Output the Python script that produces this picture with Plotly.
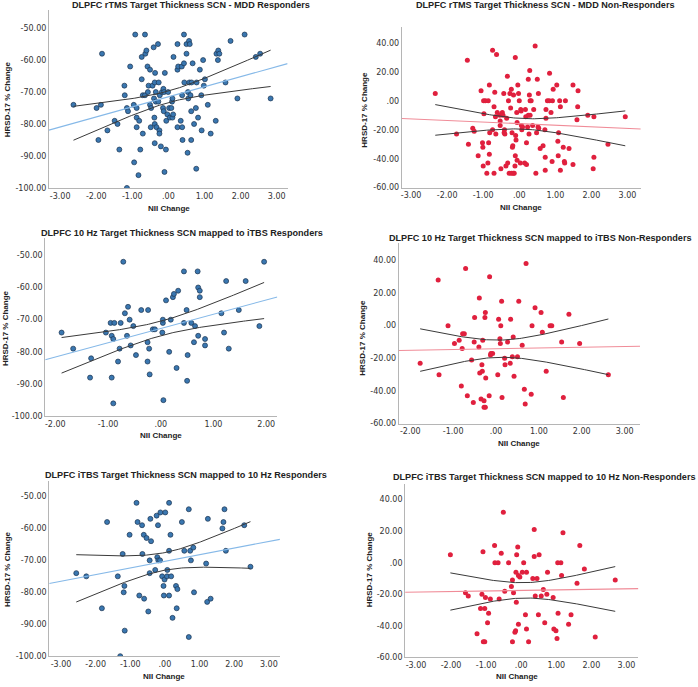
import numpy as np
import plotly.graph_objects as go

# ---------------- data ----------------
# Panel 1: rTMS MDD Responders
p1_x = [-2.63,-1.99,-1.94,-1.87,-1.84,-1.69,-1.49,-1.41,-1.36,-1.22,-1.21,-1.15,-1.15,-1.12,-1.06,-0.96,-0.95,-0.92,-0.88,-0.88,
        -0.88,-0.83,-0.81,-0.78,-0.74,-0.74,-0.71,-0.71,-0.65,-0.65,-0.64,-0.61,-0.58,-0.57,-0.55,-0.51,-0.51,-0.49,-0.48,-0.44,
        -0.41,-0.40,-0.39,-0.38,-0.38,-0.38,-0.37,-0.35,-0.35,-0.33,-0.29,-0.28,-0.27,-0.25,-0.25,-0.24,-0.21,-0.18,-0.15,-0.14,
        -0.13,-0.12,-0.11,-0.10,-0.07,-0.06,-0.03,-0.01,0.02,0.04,0.08,0.10,0.11,0.11,0.13,0.14,0.25,0.25,0.27,0.25,
        0.34,0.37,0.38,0.38,0.39,0.43,0.43,0.44,0.50,0.50,0.53,0.54,0.55,0.57,0.58,0.59,0.61,0.63,0.63,0.64,
        0.67,0.71,0.76,0.77,0.78,0.82,0.87,0.91,0.92,0.96,0.98,1.01,1.09,1.17,1.31,1.33,1.37,1.38,1.41,1.58,
        1.72,1.91,2.11,2.42,2.54,2.83]
p1_y = [-74,-75,-85,-74,-58,-82,-79,-80,-88,-68,-71,-100,-75,-76,-62,-74,-92,-52,-75,-81,
        -78,-96,-79,-88,-66,-59,-71,-83,-52,-71,-58,-57,-62,-70,-68,-63,-74,-81,-75,-68,
        -56,-72,-78,-80,-67,-86,-64,-70,-73,-81,-55,-73,-67,-82,-83,-71,-87,-70,-75,-69,
        -76,-70,-95,-64,-88,-79,-77,-70,-75,-78,-75,-73,-72,-78,-77,-59,-55,-63,-62,-81,
        -79,-62,-81,-71,-85,-52,-61,-67,-58,-55,-89,-70,-72,-54,-67,-55,-71,-76,-85,-67,
        -61,-80,-75,-94,-67,-78,-63,-71,-82,-60,-68,-66,-74,-83,-79,-58,-60,-57,-58,-67,
        -54,-72,-52,-59,-58,-72]

# Panel 2: rTMS MDD Non-Responders
p2_x = [-2.33,-1.74,-1.44,-1.41,-1.29,-1.25,-1.14,-1.06,-1.02,-1.01,-1.00,-0.99,-0.98,-0.94,-0.90,-0.87,-0.86,-0.85,-0.83,-0.83,
        -0.82,-0.74,-0.74,-0.70,-0.70,-0.68,-0.66,-0.65,-0.63,-0.61,-0.54,-0.53,-0.53,-0.51,-0.47,-0.45,-0.43,-0.42,-0.41,-0.40,
        -0.37,-0.35,-0.33,-0.32,-0.30,-0.28,-0.26,-0.24,-0.22,-0.22,-0.20,-0.19,-0.18,-0.17,-0.16,-0.14,-0.12,-0.11,-0.11,-0.10,
        -0.09,-0.07,-0.06,-0.06,-0.04,-0.02,0.00,0.03,0.04,0.05,0.06,0.07,0.09,0.15,0.17,0.18,0.20,0.20,0.23,0.25,
        0.25,0.27,0.28,0.29,0.30,0.30,0.33,0.37,0.40,0.44,0.46,0.48,0.50,0.52,0.53,0.54,0.58,0.66,0.71,0.72,
        0.72,0.74,0.74,0.78,0.83,0.84,0.88,0.91,0.92,0.94,1.04,1.07,1.08,1.09,1.12,1.14,1.14,1.22,1.25,1.26,
        1.28,1.38,1.49,1.49,1.60,1.62,1.63,1.90,2.07,2.07,2.05,2.46,2.94]
p2_y = [5,-23,28,-30,-19,-21,-38,7,-29,-32,-45,0,-9,0,-50,-43,0,-29,11,-37,
        -22,35,-20,-4,-50,6,-11,-23,32,-8,-10,-14,-17,-47,-8,-10,5,-22,-20,-23,
        -45,-12,17,-43,0,-50,5,-5,8,-50,-22,-32,-31,-50,4,-50,-45,30,-38,-24,
        -27,-8,-15,-41,11,5,0,-43,-6,-7,-17,-20,-18,-43,-6,-11,-29,-44,-18,-10,
        15,-23,4,21,-10,0,0,-17,-6,38,-50,-22,15,-18,5,-19,-33,-31,-20,-39,
        -48,-6,-12,0,0,19,-8,-42,0,8,11,-28,-38,-22,0,-4,-48,-32,-42,-43,
        0,-33,11,-44,-13,-4,7,-10,-11,-39,-47,-30,-11]

# Panel 3: 10 Hz -> iTBS Responders
p3_x = [-1.88,-1.66,-1.34,-1.32,-1.04,-0.95,-0.93,-0.93,-0.90,-0.90,-0.88,-0.81,-0.78,-0.76,-0.71,-0.68,-0.64,-0.62,-0.59,-0.57,
        -0.52,-0.47,-0.37,-0.25,-0.25,-0.24,-0.22,-0.21,-0.15,-0.11,0.03,0.04,0.04,0.05,0.10,0.16,0.19,0.23,0.25,0.30,
        0.33,0.44,0.44,0.49,0.50,0.51,0.58,0.63,0.65,0.70,0.71,0.71,0.74,0.74,0.84,0.84,1.15,1.20,1.24,1.29,
        1.48,1.61,1.87,1.96]
p3_y = [-74,-79,-88,-82,-74,-71,-75,-88,-76,-96,-71,-83,-79,-71,-52,-68,-75,-66,-70,-78,
        -72,-81,-67,-83,-77,-67,-79,-87,-73,-73,-74,-71,-70,-95,-64,-80,-70,-63,-62,-85,
        -61,-55,-71,-67,-89,-81,-71,-77,-72,-55,-60,-75,-63,-61,-76,-78,-68,-74,-58,-79,
        -67,-58,-72,-52]

# Panel 4: 10 Hz -> iTBS Non-Responders
p4_x = [-1.77,-1.35,-1.33,-1.12,-0.97,-0.86,-0.81,-0.79,-0.78,-0.74,-0.71,-0.67,-0.57,-0.53,-0.51,-0.50,-0.40,-0.39,-0.38,-0.35,
        -0.33,-0.32,-0.31,-0.28,-0.28,-0.26,-0.25,-0.25,-0.24,-0.16,-0.15,-0.13,-0.12,-0.08,0.04,0.06,0.09,0.10,0.11,0.13,
        0.14,0.20,0.21,0.27,0.33,0.34,0.38,0.40,0.42,0.50,0.53,0.61,0.66,0.68,0.70,0.82,0.84,0.91,1.05,1.08,
        1.17,1.26,1.30,1.53,1.57,1.70,1.95,2.62]
p4_y = [-23,28,-30,0,-11,-9,-37,-14,-5,-5,35,-43,-21,-47,-10,5,-13,17,-29,-45,
        -24,-28,-9,-46,-50,5,8,-50,-32,-43,30,-18,-17,-17,-30,4,-8,-11,0,15,
        -44,-20,-24,-10,-23,4,-19,-7,-31,-19,15,-12,-39,-48,38,-42,0,11,8,-4,
        -28,0,0,-10,-44,7,-11,-30]

# Panel 5: iTBS -> 10 Hz Responders
p5_x = [-2.56,-2.27,-1.82,-1.67,-1.36,-1.29,-1.22,-1.19,-1.17,-1.16,-1.02,-0.82,-0.79,-0.74,-0.66,-0.65,-0.61,-0.60,-0.53,-0.48,
        -0.44,-0.44,-0.42,-0.40,-0.28,-0.24,-0.22,-0.20,-0.19,-0.14,-0.13,-0.08,-0.04,-0.03,-0.01,0.01,0.06,0.07,0.12,0.12,
        0.12,0.16,0.18,0.22,0.32,0.34,0.36,0.49,0.56,0.69,0.69,0.73,0.75,0.82,0.84,1.19,1.22,1.24,1.32,1.66,
        1.69,1.72,1.76,2.29,2.47]
p5_y = [-74,-75,-85,-58,-75,-100,-68,-80,-78,-92,-62,-52,-58,-81,-59,-68,-62,-82,-63,-86,
        -70,-74,-57,-64,-73,-56,-69,-59,-70,-70,-55,-75,-78,-81,-76,-55,-75,-73,-52,-67,
        -81,-62,-75,-88,-78,-85,-79,-58,-67,-54,-94,-67,-70,-66,-80,-71,-83,-57,-82,-60,
        -58,-54,-67,-59,-72]

# Panel 6: iTBS -> 10 Hz Non-Responders
p6_x = [-2.02,-1.59,-1.51,-1.26,-1.16,-1.12,-1.09,-1.08,-1.04,-1.04,-1.02,-0.96,-0.93,-0.88,-0.76,-0.75,-0.66,-0.63,-0.57,-0.51,
        -0.47,-0.36,-0.28,-0.25,-0.25,-0.22,-0.18,-0.16,-0.15,-0.14,-0.13,-0.10,-0.08,-0.08,-0.04,0.03,0.07,0.12,0.15,0.15,
        0.21,0.33,0.37,0.37,0.40,0.45,0.49,0.51,0.57,0.63,0.67,0.73,0.75,0.91,0.93,0.99,1.02,1.04,1.05,1.13,
        1.15,1.19,1.35,1.42,1.59,1.67,1.80,2.11,2.68]
p6_y = [5,-19,-21,-45,-29,-20,7,-50,-50,-29,-22,-38,-32,-23,11,0,0,-23,6,32,
        -18,0,-15,-11,-50,-19,-44,-43,-6,-25,5,10,-8,-39,-9,-6,0,-33,-42,-6,
        -50,-10,21,4,-21,-10,-33,5,-21,-17,-38,-20,-6,-22,-42,-43,-48,0,-32,0,
        -8,19,-39,-33,-13,11,-4,-47,-11]

titles = ["DLPFC rTMS Target Thickness SCN - MDD Responders",
          "DLPFC rTMS Target Thickness SCN - MDD Non-Responders",
          "DLPFC 10 Hz Target Thickness SCN mapped to iTBS Responders",
          "DLPFC 10 Hz Target Thickness SCN mapped to iTBS Non-Responders",
          "DLPFC iTBS Target Thickness SCN mapped to 10 Hz Responders",
          "DLPFC iTBS Target Thickness SCN mapped to 10 Hz Non-Responders"]
x_title = "NII Change"
y_title = "HRSD-17 % Change"

xt_3 = [-3, -2, -1, 0, 1, 2, 3]
xt_2 = [-2, -1, 0, 1, 2]
xt_23 = [-2, -1, 0, 1, 2, 3]
yt_resp = [-100, -90, -80, -70, -60, -50]
yt_non = [-60, -40, -20, 0, 20, 40]

def fmt(v):
    s = "%.2f" % v
    if s.startswith("0."):
        s = s[1:]
    elif s.startswith("-0."):
        s = "-" + s[2:]
    return s

W, H = 698, 687

panels = [
    dict(x=p1_x, y=p1_y, px=(48, 287), py=(10, 189.3), xr=[-3.31, 3.30], yr=[-100, -44.3], xt=xt_3, yt=yt_resp, resp=True,
         title=(190, 5), xtit=(168, 210), ytit=(6, 100)),
    dict(x=p2_x, y=p2_y, px=(401.3, 640.7), py=(26.7, 189), xr=[-3.26, 3.37], yr=[-60, 51.4], xt=xt_3, yt=yt_non, resp=False,
         title=(545.7, 5), xtit=(520.7, 209), ytit=(364, 110)),
    dict(x=p3_x, y=p3_y, px=(44.3, 276.7), py=(240, 419.3), xr=[-2.19, 2.21], yr=[-100, -44.7], xt=xt_2, yt=yt_resp, resp=True,
         title=(181.7, 235), xtit=(160.7, 439), ytit=(4.5, 330)),
    dict(x=p4_x, y=p4_y, px=(398.3, 640), py=(245, 426.7), xr=[-2.27, 3.36], yr=[-60, 50.5], xt=xt_23, yt=yt_non, resp=False,
         title=(540.7, 240), xtit=(519, 447), ytit=(361.7, 340)),
    dict(x=p5_x, y=p5_y, px=(48.3, 279.3), py=(485, 661), xr=[-3.34, 3.32], yr=[-100, -45.3], xt=xt_3, yt=yt_resp, resp=True,
         title=(185, 478.3), xtit=(163.3, 681), ytit=(7.3, 573)),
    dict(x=p6_x, y=p6_y, px=(404.7, 638.3), py=(488, 662.3), xr=[-3.31, 3.34], yr=[-60, 49.6], xt=xt_3, yt=yt_non, resp=False,
         title=(544, 480.7), xtit=(517, 681.7), ytit=(369, 573)),
]

FONT = "Liberation Sans"
TICKFONT = "DejaVu Sans"
fig = go.Figure()
layout = dict(width=W, height=H, margin=dict(l=0, r=0, t=0, b=0), paper_bgcolor="white", plot_bgcolor="white",
              showlegend=False, hovermode=False)
annotations = []

def fit_band(x, y):
    x = np.asarray(x, float); y = np.asarray(y, float); n = len(x)
    b, a = np.polyfit(x, y, 1)
    res = y - (a + b * x)
    s = np.sqrt(np.sum(res ** 2) / (n - 2))
    xbar = x.mean(); sxx = np.sum((x - xbar) ** 2)
    t = 1.96 + 2.5 / (n - 2)
    xs = np.linspace(x.min(), x.max(), 120)
    yh = a + b * xs
    hw = t * s * np.sqrt(1.0 / n + (xs - xbar) ** 2 / sxx)
    return a, b, xs, yh - hw, yh + hw

for i, p in enumerate(panels):
    k = i + 1
    xa = "x" if k == 1 else "x%d" % k
    ya = "y" if k == 1 else "y%d" % k
    xkey = "xaxis" if k == 1 else "xaxis%d" % k
    ykey = "yaxis" if k == 1 else "yaxis%d" % k
    a, b, xs, lo, hi = fit_band(p["x"], p["y"])
    if p["resp"]:
        mk = dict(size=5, color="#3a77b0", line=dict(color="#1b3350", width=0.7))
        fitc = "#86b9e8"
    else:
        mk = dict(size=5, color="#e0203e", line=dict(color="#c0102c", width=0))
        fitc = "#f08c98"
    xr = p["xr"]
    fig.add_trace(go.Scatter(x=p["x"], y=p["y"], mode="markers", marker=mk, xaxis=xa, yaxis=ya, hoverinfo="skip"))
    fig.add_trace(go.Scatter(x=[xr[0], xr[1]], y=[a + b * xr[0], a + b * xr[1]], mode="lines",
                             line=dict(color=fitc, width=1.1), xaxis=xa, yaxis=ya, hoverinfo="skip"))
    for band in (lo, hi):
        fig.add_trace(go.Scatter(x=xs, y=band, mode="lines", line=dict(color="#3a3a3a", width=1),
                                 xaxis=xa, yaxis=ya, hoverinfo="skip"))
    x0, x1 = p["px"]; yt0, yb = p["py"]
    layout[xkey] = dict(domain=[x0 / W, x1 / W], range=xr, anchor=ya, showgrid=False, zeroline=False,
                        showline=True, linecolor="#b5b5b5", linewidth=1, ticks="", fixedrange=True,
                        tickvals=p["xt"], ticktext=[fmt(v) for v in p["xt"]],
                        tickfont=dict(family=TICKFONT, size=8, color="#333"))
    layout[ykey] = dict(domain=[1 - yb / H, 1 - yt0 / H], range=p["yr"], anchor=xa, showgrid=False, zeroline=False,
                        showline=True, linecolor="#b5b5b5", linewidth=1, ticks="", fixedrange=True,
                        tickvals=p["yt"], ticktext=[fmt(v) for v in p["yt"]],
                        tickfont=dict(family=TICKFONT, size=8, color="#333"))
    tx, ty = p["title"]
    annotations.append(dict(text="<b>%s</b>" % titles[i], x=tx / W, y=1 - ty / H, xref="paper", yref="paper",
                            showarrow=False, xanchor="center", yanchor="middle",
                            font=dict(family=FONT, size=9.1, color="#222")))
    cx, cy = p["xtit"]
    annotations.append(dict(text="<b>%s</b>" % x_title, x=cx / W, y=1 - cy / H, xref="paper", yref="paper",
                            showarrow=False, xanchor="center", yanchor="middle",
                            font=dict(family=FONT, size=8, color="#222")))
    yx, yy = p["ytit"]
    annotations.append(dict(text="<b>%s</b>" % y_title, x=yx / W, y=1 - yy / H, xref="paper", yref="paper",
                            showarrow=False, xanchor="center", yanchor="middle", textangle=-90,
                            font=dict(family=FONT, size=8, color="#222")))

layout["annotations"] = annotations
fig.update_layout(**layout)
fig.write_html("out.html", config={"displayModeBar": False, "staticPlot": True},
               post_script="document.body.style.margin='0';document.body.style.overflow='hidden';")
